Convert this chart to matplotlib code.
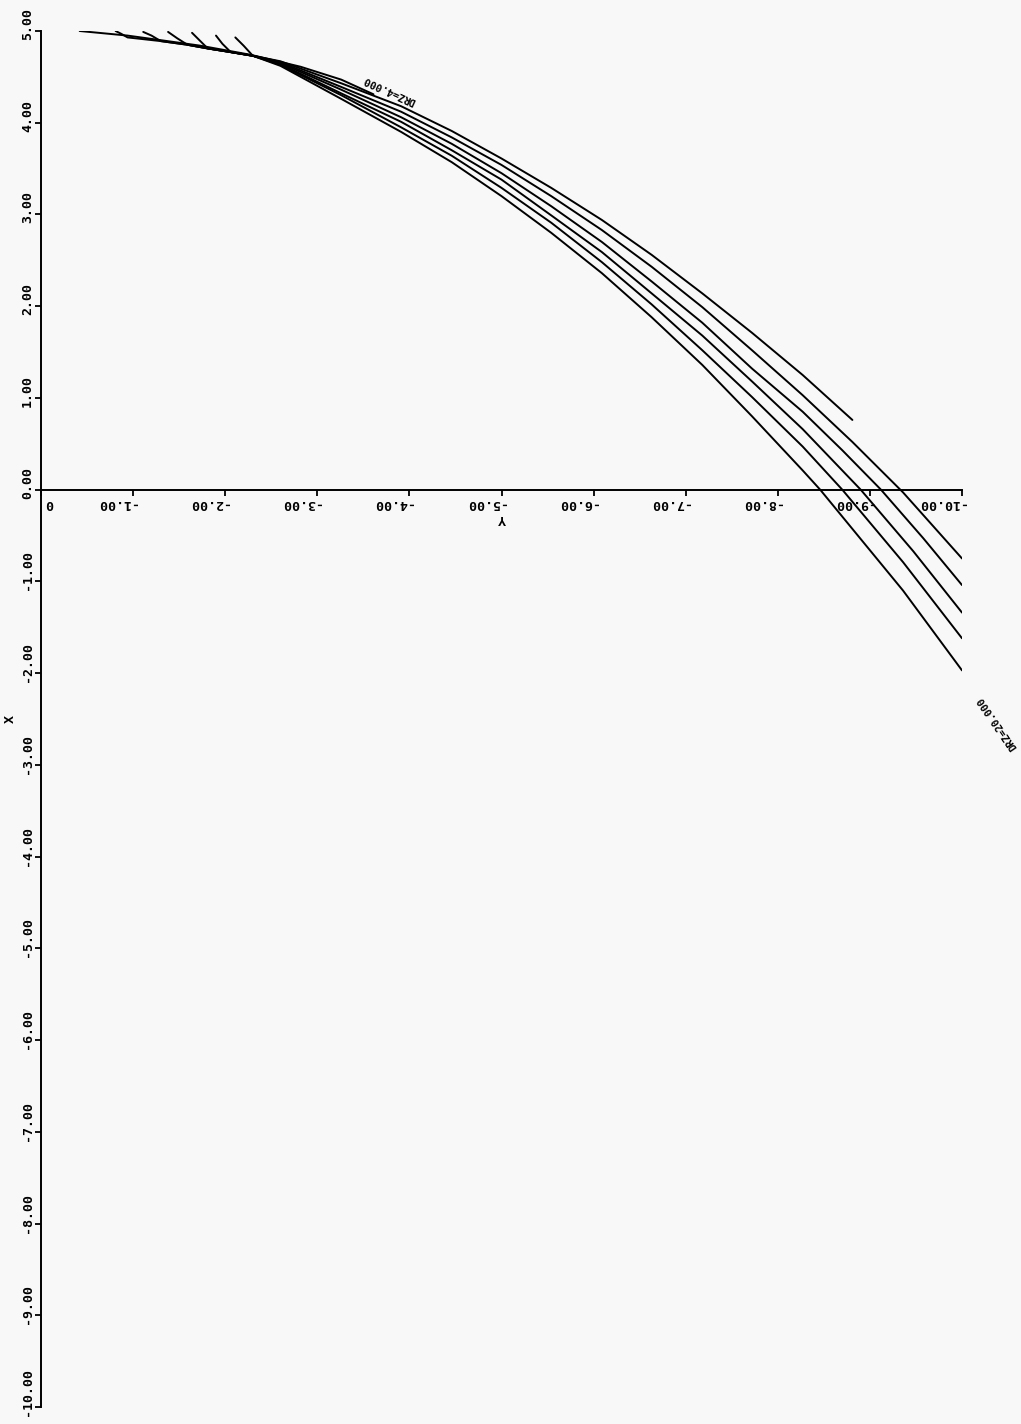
import matplotlib
matplotlib.use("Agg")
import matplotlib.pyplot as plt
from matplotlib.transforms import offset_copy

# ---- data (Y horizontal, X vertical) ----
c0_y = [-0.42, -0.94, -1.30, -1.73, -2.28, -2.82, -3.26, -3.61]
c0_x = [5.00, 4.95, 4.90, 4.84, 4.74, 4.61, 4.47, 4.31]

c1_y = [-0.81, -0.87, -0.94, -1.30, -1.59, -1.81, -2.06, -2.30, -2.60, -3.26, -3.91, -4.46, -5.00,
        -5.54, -6.09, -6.63, -7.18, -7.72, -8.27, -8.81]
c1_x = [5.00, 4.97, 4.93, 4.89, 4.85, 4.81, 4.77, 4.73, 4.67, 4.43, 4.18, 3.91, 3.61,
        3.29, 2.94, 2.56, 2.14, 1.71, 1.25, 0.76]

c2_y = [-1.11, -1.20, -1.30, -1.59, -1.81, -2.06, -2.30, -2.60, -3.26, -3.91, -4.46, -5.00,
        -5.54, -6.09, -6.63, -7.18, -7.72, -8.27, -8.81, -9.36, -10.00]
c2_x = [4.99, 4.95, 4.89, 4.85, 4.81, 4.77, 4.73, 4.66, 4.39, 4.12, 3.84, 3.54,
        3.20, 2.83, 2.43, 1.99, 1.52, 1.03, 0.52, -0.03, -0.75]

c3_y = [-1.38, -1.48, -1.59, -1.81, -2.06, -2.30, -2.60, -3.26, -3.91, -4.46, -5.00,
        -5.54, -6.09, -6.63, -7.18, -7.72, -8.27, -8.70, -9.12, -9.58, -10.00]
c3_x = [4.99, 4.92, 4.85, 4.81, 4.77, 4.73, 4.65, 4.36, 4.06, 3.77, 3.45,
        3.09, 2.70, 2.27, 1.82, 1.32, 0.85, 0.43, 0.00, -0.53, -1.04]

c4_y = [-1.64, -1.73, -1.81, -2.06, -2.30, -2.60, -3.26, -3.91, -4.46, -5.00,
        -5.54, -6.09, -6.63, -7.18, -7.72, -8.27, -8.90, -9.47, -10.00]
c4_x = [4.98, 4.89, 4.81, 4.77, 4.73, 4.64, 4.32, 4.01, 3.70, 3.38,
        2.99, 2.59, 2.14, 1.68, 1.18, 0.66, 0.00, -0.67, -1.34]

c5_y = [-1.90, -1.97, -2.06, -2.30, -2.60, -3.26, -3.91, -4.46, -5.00,
        -5.54, -6.09, -6.63, -7.18, -7.72, -8.27, -8.70, -9.36, -10.00]
c5_x = [4.95, 4.86, 4.77, 4.73, 4.63, 4.30, 3.95, 3.64, 3.29,
        2.91, 2.48, 2.02, 1.52, 1.01, 0.47, 0.00, -0.79, -1.62]

c6_y = [-2.11, -2.20, -2.30, -2.60, -3.26, -3.91, -4.46, -5.00,
        -5.54, -6.09, -6.63, -7.18, -7.72, -8.27, -8.46, -9.36, -10.00]
c6_x = [4.93, 4.84, 4.73, 4.62, 4.26, 3.90, 3.57, 3.20,
        2.80, 2.36, 1.88, 1.36, 0.80, 0.21, 0.00, -1.10, -1.97]

curves = [(c0_y, c0_x), (c1_y, c1_x), (c2_y, c2_x), (c3_y, c3_x),
          (c4_y, c4_x), (c5_y, c5_x), (c6_y, c6_x)]

h_ticks = [0, -1, -2, -3, -4, -5, -6, -7, -8, -9, -10]
h_labels = ["0", "-1.00", "-2.00", "-3.00", "-4.00", "-5.00", "-6.00", "-7.00", "-8.00", "-9.00", "-10.00"]
v_ticks = [5, 4, 3, 2, 1, 0, -1, -2, -3, -4, -5, -6, -7, -8, -9, -10]
v_labels = ["5.00", "4.00", "3.00", "2.00", "1.00", "0.00", "-1.00", "-2.00", "-3.00",
            "-4.00", "-5.00", "-6.00", "-7.00", "-8.00", "-9.00", "-10.00"]

label_first = "DRZ=4.000"
label_last = "DRZ=20.000"
label_first_pos = (-3.78, 4.36)
label_last_pos = (-10.38, -2.54)

# ---- figure ----
W, H, DPI = 1021, 1424, 100
fig = plt.figure(figsize=(W / DPI, H / DPI), dpi=DPI, facecolor="#f8f8f8")
ax = fig.add_axes([41 / W, 17 / H, 921 / W, 1376 / H])
ax.set_facecolor("none")

for cy, cx in curves:
    ax.plot(cy, cx, color="black", lw=1.4, solid_capstyle="round", solid_joinstyle="round")

ax.set_xlim(0, -10)
ax.set_ylim(-10, 5)

for s in ["top", "right"]:
    ax.spines[s].set_visible(False)
ax.spines["bottom"].set_position(("data", 0))
ax.spines["bottom"].set_linewidth(1.4)
ax.spines["left"].set_linewidth(1.4)

font = dict(family="DejaVu Sans Mono", weight="bold", size=9.5)

ax.set_xticks(h_ticks)
ax.set_xticklabels(h_labels, **font)
ax.set_yticks(v_ticks)
ax.set_yticklabels(v_labels, **font)
ax.tick_params(axis="x", direction="out", length=4.5, width=1.3, pad=0.5)
ax.tick_params(axis="y", direction="out", length=4, width=1.3, pad=1)

for i, lab in enumerate(ax.get_xticklabels()):
    lab.set_rotation(180)
    if i == 0:
        lab.set_ha("left")
        lab.set_transform(offset_copy(lab.get_transform(), fig=fig, x=4, y=0, units="dots"))
    else:
        lab.set_ha("right")
        lab.set_transform(offset_copy(lab.get_transform(), fig=fig, x=3, y=0, units="dots"))

for lab in ax.get_yticklabels():
    lab.set_rotation(90)
    lab.set_va("bottom")
    lab.set_ha("right")
    lab.set_transform(offset_copy(lab.get_transform(), fig=fig, x=0, y=-9, units="dots"))

ax.set_xlabel("Y", rotation=180, labelpad=2, **font)
ax.set_ylabel("X", rotation=90, labelpad=3, **font)

small = dict(family="DejaVu Sans Mono", weight="bold", size=7.5)
ax.text(label_first_pos[0], label_first_pos[1], label_first, rotation=155.6,
        rotation_mode="anchor", ha="center", va="center", **small)
ax.text(label_last_pos[0], label_last_pos[1], label_last, rotation=124.6,
        rotation_mode="anchor", ha="center", va="center", clip_on=False, **small)

fig.savefig("out.png", dpi=DPI, facecolor=fig.get_facecolor())
